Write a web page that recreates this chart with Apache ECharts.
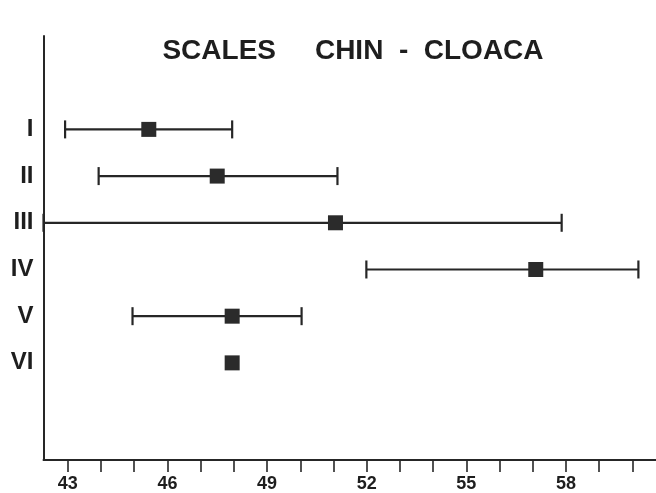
<!DOCTYPE html>
<html>
<head>
<meta charset="utf-8">
<script src="https://cdn.jsdelivr.net/npm/echarts@6/dist/echarts.min.js"></script>
<style>
html,body{margin:0;padding:0;background:#fff;}
#chart{width:656px;height:493px;}
</style>
</head>
<body>
<div id="chart"></div>
<script>
// ---- data ----
const titleText = 'SCALES     CHIN  -  CLOACA';
const groups = ['I', 'II', 'III', 'IV', 'V', 'VI'];
const lowValues  = [42.92, 43.93, 42.27, 51.99, 44.95, null];
const meanValues = [45.44, 47.50, 51.06, 57.09, 47.95, 47.95];
const highValues = [47.95, 51.12, 57.87, 60.18, 50.04, null];
const xTickValues  = [43, 44, 45, 46, 47, 48, 49, 50, 51, 52, 53, 54, 55, 56, 57, 58, 59, 60];
const xLabelValues = [43, 46, 49, 52, 55, 58];
const xMin = 42.27, xMax = 60.71;

const ink = '#262626';
const rangeData = groups.map((g, i) => [lowValues[i], highValues[i], i + 1]).filter(d => d[0] != null);
const meanData = groups.map((g, i) => [meanValues[i], i + 1]);

const chart = echarts.init(document.getElementById('chart'));
chart.setOption({
  backgroundColor: '#fff',
  animation: false,
  grid: { left: 43.5, right: 0, top: 36, bottom: 30.3, containLabel: false },
  graphic: [{
    type: 'text', x: 353, y: 51,
    style: { text: titleText, fontSize: 28, fontWeight: 'bold', fontFamily: 'Liberation Sans, Arial, sans-serif',
      fill: '#1e1e1e', align: 'center', verticalAlign: 'middle' }
  }],
  xAxis: {
    type: 'value', min: xMin, max: xMax, position: 'bottom',
    splitLine: { show: false },
    axisLine: { show: true, onZero: false, lineStyle: { color: ink, width: 2 } },
    axisTick: { show: true, customValues: xTickValues, length: 12, lineStyle: { color: ink, width: 1.6 } },
    axisLabel: { customValues: xLabelValues, margin: 15, fontSize: 18, fontWeight: 'bold',
      fontFamily: 'Liberation Sans, Arial, sans-serif', color: '#1e1e1e' }
  },
  yAxis: {
    type: 'value', inverse: true, min: -1, max: 8.08, position: 'left',
    splitLine: { show: false },
    axisLine: { show: true, onZero: false, lineStyle: { color: ink, width: 2 } },
    axisTick: { show: false },
    axisLabel: { customValues: [1, 2, 3, 4, 5, 6], margin: 10, fontSize: 24, fontWeight: 'bold',
      fontFamily: 'Liberation Sans, Arial, sans-serif', color: '#1e1e1e',
      formatter: v => groups[Math.round(v) - 1] || '' }
  },
  series: [{
    type: 'custom',
    data: rangeData,
    renderItem: function (params, api) {
      const y = api.value(2);
      const a = api.coord([api.value(0), y]);
      const b = api.coord([api.value(1), y]);
      const h = 9;
      const st = { stroke: ink, lineWidth: 2.2 };
      return { type: 'group', children: [
        { type: 'line', shape: { x1: a[0], y1: a[1], x2: b[0], y2: b[1] }, style: st },
        { type: 'line', shape: { x1: a[0], y1: a[1] - h, x2: a[0], y2: a[1] + h }, style: st },
        { type: 'line', shape: { x1: b[0], y1: b[1] - h, x2: b[0], y2: b[1] + h }, style: st }
      ]};
    },
    z: 2
  }, {
    type: 'scatter',
    data: meanData,
    symbol: 'rect',
    symbolSize: 15,
    itemStyle: { color: '#2b2b2b', opacity: 1 },
    z: 3
  }]
});
</script>
</body>
</html>
